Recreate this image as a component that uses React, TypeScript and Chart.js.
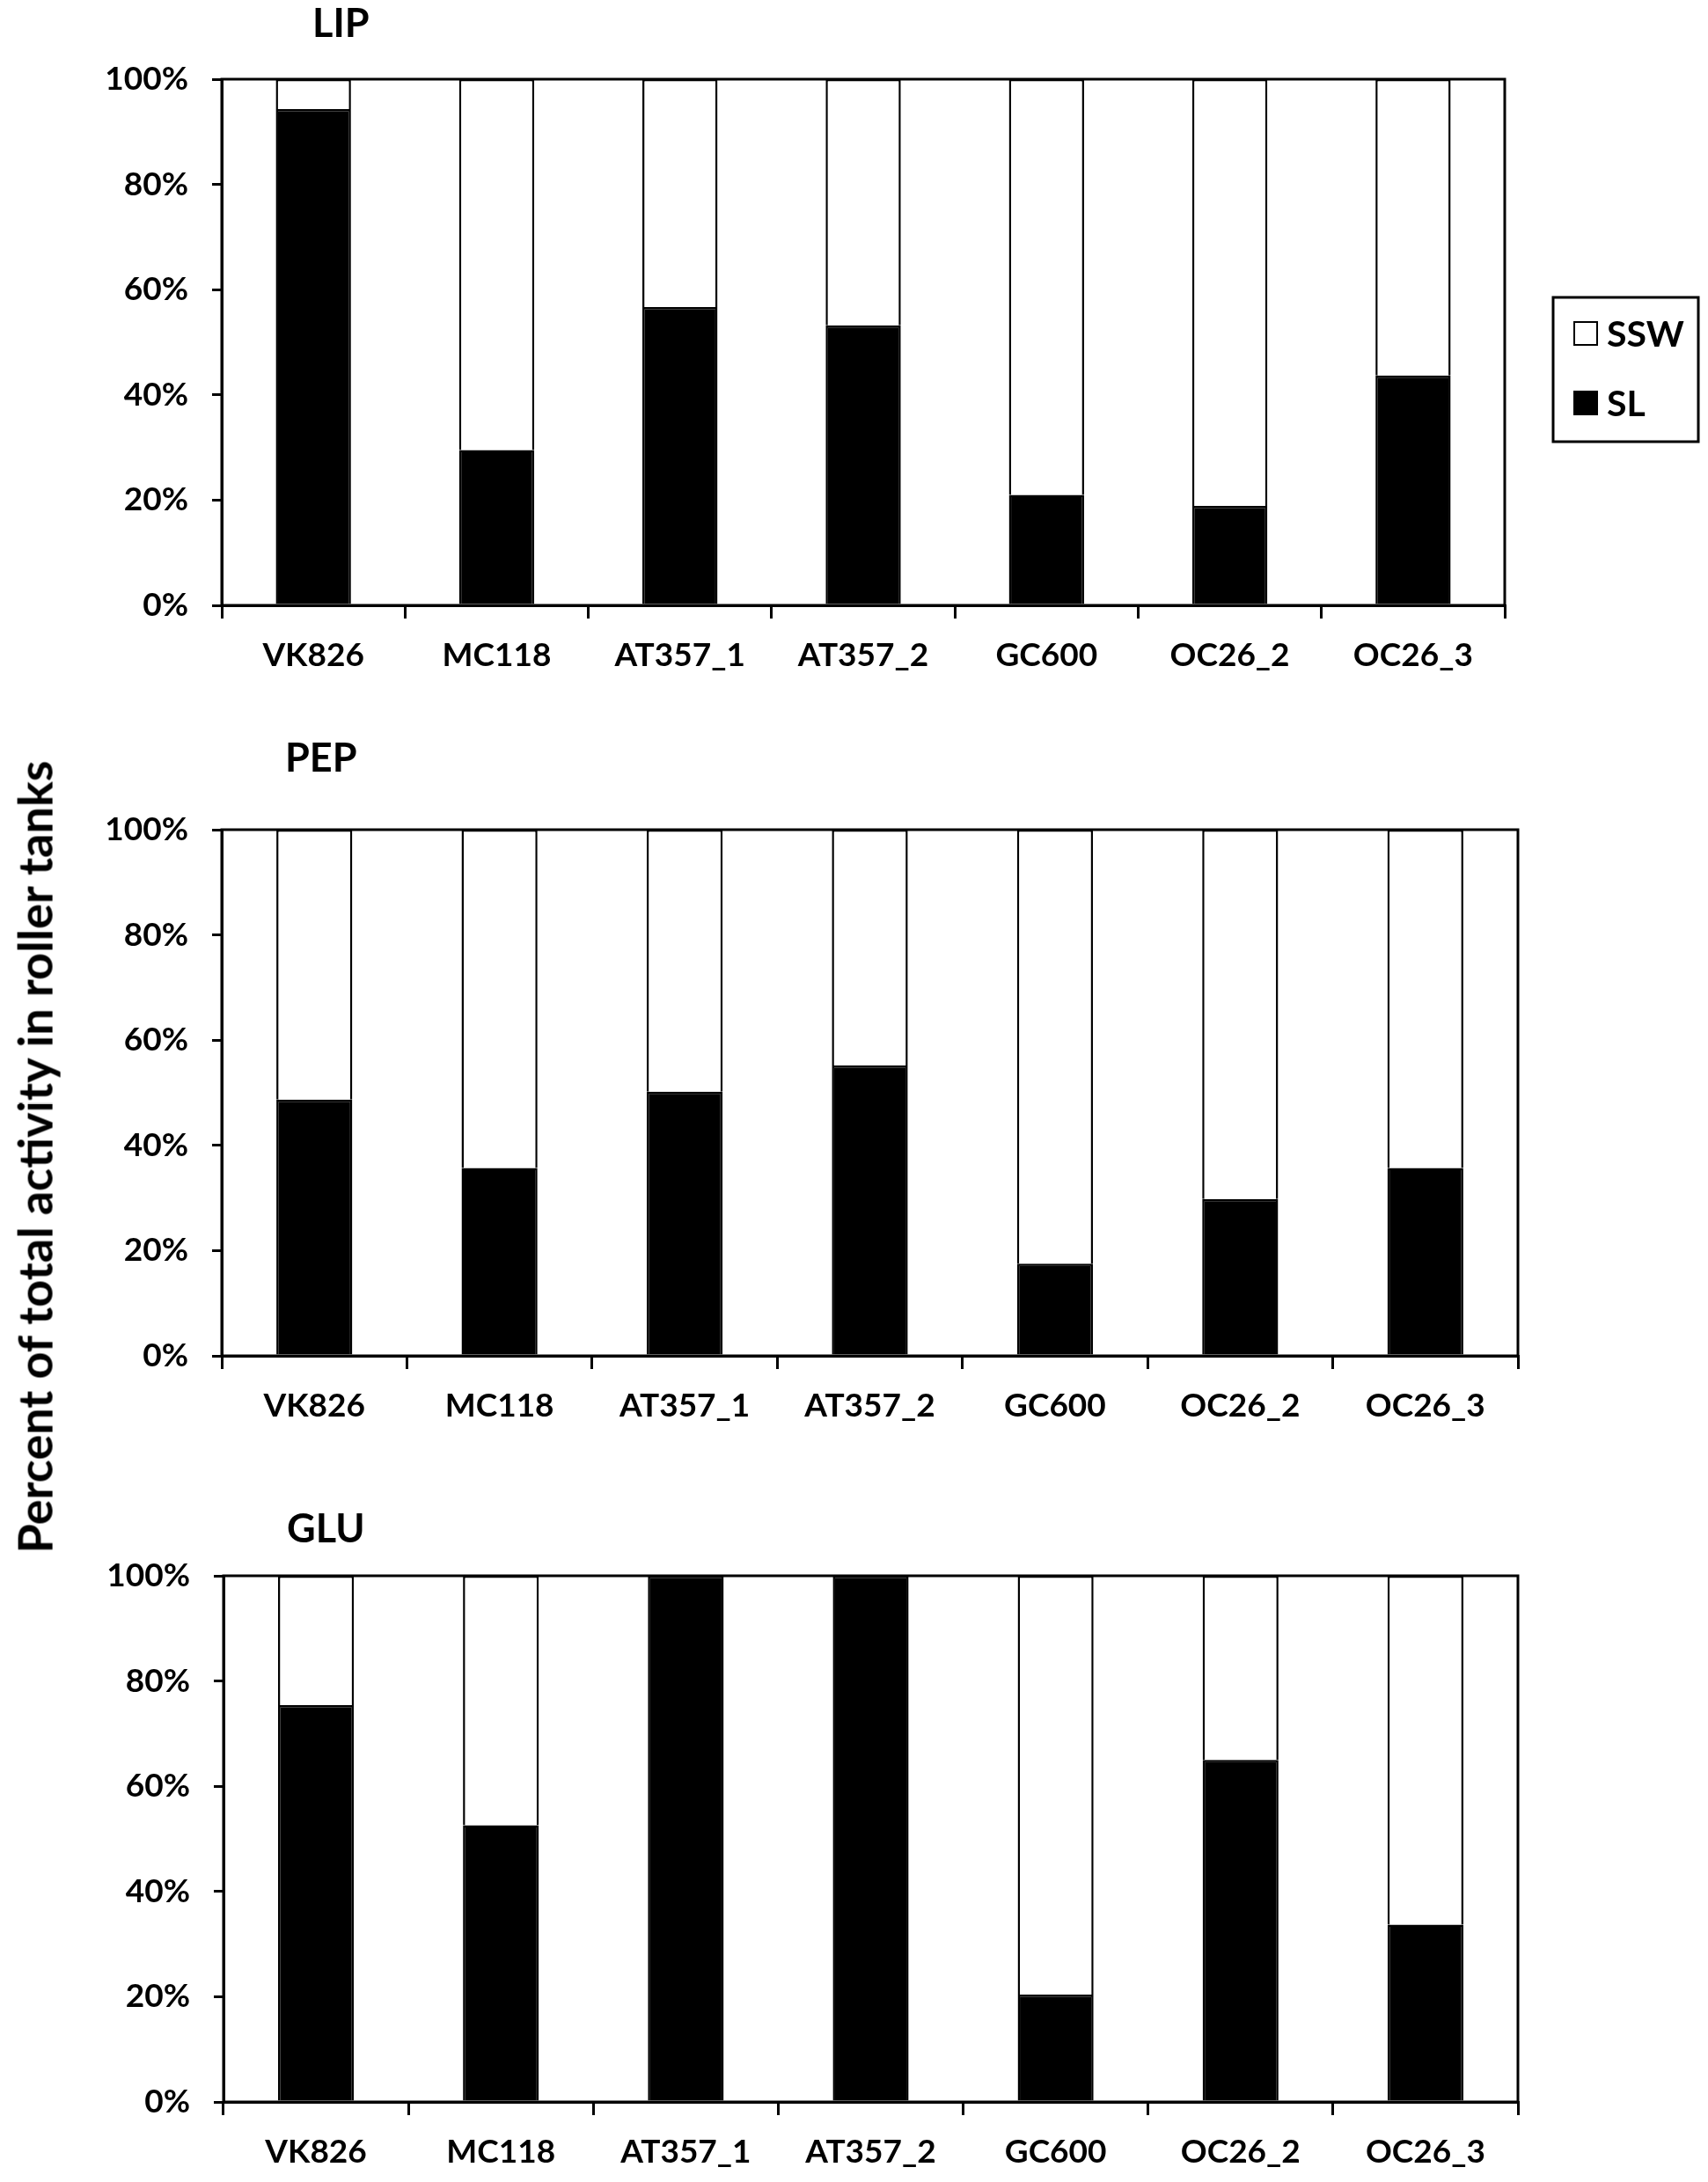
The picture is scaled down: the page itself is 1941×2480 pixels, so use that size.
import { useEffect, useRef } from "react"
import { Chart, registerables } from "chart.js"

Chart.register(...registerables)

// Data (percent of total activity)
const strains = ["VK826", "MC118", "AT357_1", "AT357_2", "GC600", "OC26_2", "OC26_3"]
const yTicks = [0, 20, 40, 60, 80, 100]

const lipSL = [94.3, 29.5, 56.7, 53.2, 21.0, 18.9, 43.7]
const lipSSW = [5.7, 70.5, 43.3, 46.8, 79.0, 81.1, 56.3]
const pepSL = [48.7, 35.7, 50.2, 55.2, 17.5, 29.8, 35.7]
const pepSSW = [51.3, 64.3, 49.8, 44.8, 82.5, 70.2, 64.3]
const gluSL = [75.4, 52.6, 100, 100, 20.4, 65.0, 33.7]
const gluSSW = [24.6, 47.4, 0, 0, 79.6, 35.0, 66.3]

const FONT = "Lato"
const CANVAS_W = 1941
const CANVAS_H = 800
const PLOT_H = 598

// box around the plot area (Excel style)
const framePlugin = {
  id: "plotFrame",
  afterDatasetsDraw(chart: any) {
    const { ctx, chartArea: a } = chart
    ctx.save()
    ctx.strokeStyle = "#000"
    ctx.lineWidth = 3
    ctx.strokeRect(a.left, a.top, a.right - a.left, a.bottom - a.top)
    ctx.restore()
  },
}

const panelTitlePlugin = {
  id: "panelTitle",
  afterDraw(chart: any, _args: any, opts: any) {
    if (!opts || !opts.text) return
    const { ctx } = chart
    ctx.save()
    ctx.font = `bold 45px ${FONT}`
    ctx.fillStyle = "#000"
    ctx.textBaseline = "alphabetic"
    ctx.textAlign = "left"
    ctx.fillText(opts.text, opts.x, opts.y)
    ctx.restore()
  },
}

// legend in a bordered box, top item = last dataset
const boxLegendPlugin = {
  id: "boxLegend",
  afterDraw(chart: any, _args: any, opts: any) {
    if (!opts || !opts.display) return
    const { ctx } = chart
    const { x, y, width, height } = opts
    ctx.save()
    ctx.fillStyle = "#fff"
    ctx.fillRect(x, y, width, height)
    ctx.strokeStyle = "#000"
    ctx.lineWidth = 3
    ctx.strokeRect(x, y, width, height)
    const items = [...chart.data.datasets].reverse()
    items.forEach((ds: any, i: number) => {
      const cy = y + 41 + i * 79
      ctx.fillStyle = ds.backgroundColor
      ctx.fillRect(x + 24, cy - 13, 26, 26)
      ctx.lineWidth = 2
      ctx.strokeRect(x + 24, cy - 13, 26, 26)
      ctx.fillStyle = "#000"
      ctx.font = `bold 41px ${FONT}`
      ctx.textBaseline = "middle"
      ctx.fillText(ds.label, x + 61, cy + 2)
    })
    ctx.restore()
  },
}

type PanelProps = {
  title: string
  sl: number[]
  ssw: number[]
  top: number
  padTop: number
  plotLeft: number
  plotRight: number
  titleX: number
  titleY: number
  legend?: boolean
}

function Panel({ title, sl, ssw, top, padTop, plotLeft, plotRight, titleX, titleY, legend }: PanelProps) {
  const chartRef = useRef<HTMLCanvasElement>(null)
  const chartInstance = useRef<Chart | null>(null)

  useEffect(() => {
    if (!chartRef.current) return
    if (chartInstance.current) chartInstance.current.destroy()

    const tickFont = { family: FONT, size: 37, weight: "bold" as const }

    chartInstance.current = new Chart(chartRef.current, {
      type: "bar",
      data: {
        labels: strains,
        datasets: [
          {
            label: "SL",
            data: sl,
            backgroundColor: "#000",
            borderColor: "#000",
            borderWidth: 2.5,
          },
          {
            label: "SSW",
            data: ssw,
            backgroundColor: "#fff",
            borderColor: "#000",
            borderWidth: 2.5,
          },
        ],
      },
      options: {
        animation: false,
        responsive: true,
        maintainAspectRatio: false,
        layout: {
          padding: { top: padTop, right: CANVAS_W - plotRight, left: 0, bottom: 0 },
        },
        datasets: {
          bar: { categoryPercentage: 1, barPercentage: 0.41 },
        },
        scales: {
          x: {
            stacked: true,
            offset: true,
            grid: {
              offset: true,
              drawOnChartArea: false,
              drawTicks: true,
              tickLength: 15,
              color: "#000",
              lineWidth: 3,
            },
            border: { display: true, color: "#000", width: 3 },
            ticks: { font: tickFont, color: "#000", padding: 20, maxRotation: 0, autoSkip: false },
            afterFit: (scale: any) => {
              scale.height = CANVAS_H - padTop - PLOT_H
            },
          },
          y: {
            stacked: true,
            min: 0,
            max: 100,
            grid: {
              drawOnChartArea: false,
              drawTicks: true,
              tickLength: 11,
              color: "#000",
              lineWidth: 3,
            },
            border: { display: true, color: "#000", width: 3 },
            ticks: {
              font: tickFont,
              color: "#000",
              padding: 27,
              callback: (v: any) => `${v}%`,
            },
            afterBuildTicks: (scale: any) => {
              scale.ticks = yTicks.map((v) => ({ value: v }))
            },
            afterFit: (scale: any) => {
              scale.width = plotLeft
            },
          },
        },
        plugins: {
          legend: { display: false },
          tooltip: { enabled: false },
          panelTitle: { text: title, x: titleX, y: titleY },
          boxLegend: { display: !!legend, x: 1765, y: 338, width: 165, height: 164 },
        } as any,
      },
      plugins: [framePlugin, panelTitlePlugin, boxLegendPlugin],
    })

    return () => {
      if (chartInstance.current) {
        chartInstance.current.destroy()
        chartInstance.current = null
      }
    }
  }, [])

  return (
    <div style={{ position: "absolute", left: 0, top, width: CANVAS_W, height: CANVAS_H }}>
      <canvas ref={chartRef} />
    </div>
  )
}

export default function App() {
  return (
    <div
      style={{
        position: "absolute",
        left: 0,
        top: 0,
        width: 1941,
        height: 2480,
        background: "#fff",
        overflow: "hidden",
      }}
    >
      <Panel title="LIP" sl={lipSL} ssw={lipSSW} top={0} padTop={90} plotLeft={252} plotRight={1710} titleX={355} titleY={42} legend />
      <Panel title="PEP" sl={pepSL} ssw={pepSSW} top={823} padTop={120} plotLeft={252} plotRight={1725} titleX={324} titleY={54} />
      <Panel title="GLU" sl={gluSL} ssw={gluSSW} top={1671} padTop={120} plotLeft={254} plotRight={1725} titleX={326} titleY={82} />
      <div
        style={{
          position: "absolute",
          left: 40,
          top: 1315,
          transform: "translate(-50%, -50%) rotate(-90deg)",
          fontFamily: FONT,
          fontWeight: "bold",
          fontSize: 54,
          lineHeight: 1.2,
          whiteSpace: "nowrap",
          color: "#000",
        }}
      >
        Percent of total activity in roller tanks
      </div>
    </div>
  )
}
